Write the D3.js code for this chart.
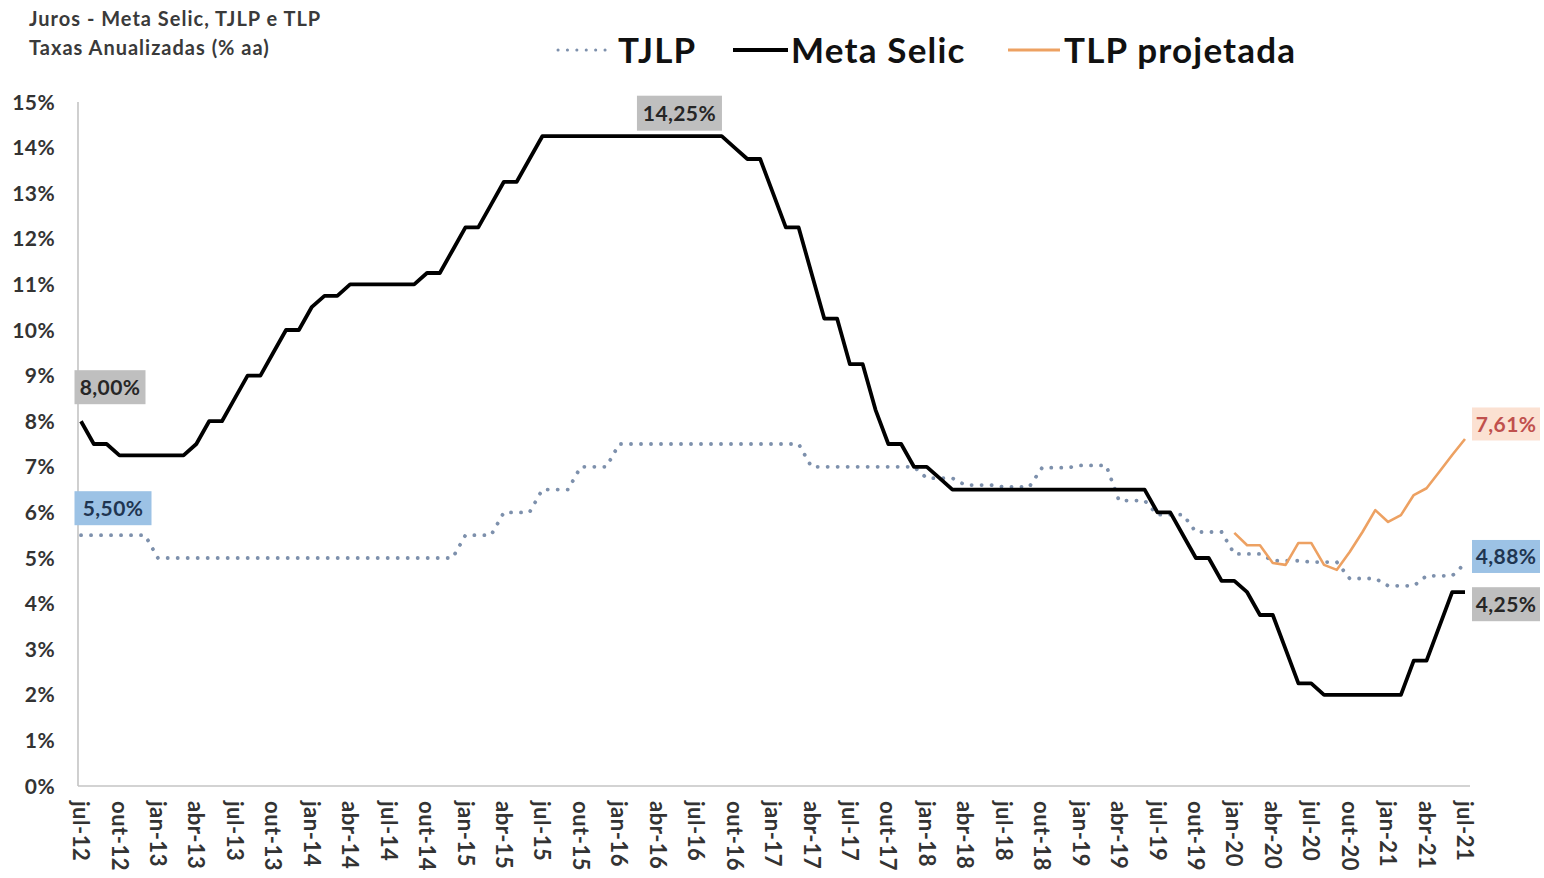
<!DOCTYPE html>
<html><head><meta charset="utf-8">
<script src="https://cdn.jsdelivr.net/npm/d3@7"></script>
<style>
body{margin:0;background:#fff}
svg{display:block}
text{font-family:Lato,"Open Sans",sans-serif;font-weight:bold}
</style>
</head><body>
<svg id="c" width="1544" height="878"></svg>
<script>
// ---- DATA ----
const titleLines = ["Juros - Meta Selic, TJLP e TLP", "Taxas Anualizadas (% aa)"];
const seriesNames = ["TJLP", "Meta Selic", "TLP projetada"];
const tickLabels = ["jul-12","out-12","jan-13","abr-13","jul-13","out-13","jan-14","abr-14","jul-14","out-14",
  "jan-15","abr-15","jul-15","out-15","jan-16","abr-16","jul-16","out-16","jan-17","abr-17","jul-17","out-17",
  "jan-18","abr-18","jul-18","out-18","jan-19","abr-19","jul-19","out-19","jan-20","abr-20","jul-20","out-20",
  "jan-21","abr-21","jul-21"];
const yTicks = [0,1,2,3,4,5,6,7,8,9,10,11,12,13,14,15];
// monthly, jul-12 .. jul-21
const selic = [
  8.00,7.50,7.50,7.25,7.25,7.25,
  7.25,7.25,7.25,7.50,8.00,8.00,8.50,9.00,9.00,9.50,10.00,10.00,
  10.50,10.75,10.75,11.00,11.00,11.00,11.00,11.00,11.00,11.25,11.25,11.75,
  12.25,12.25,12.75,13.25,13.25,13.75,14.25,14.25,14.25,14.25,14.25,14.25,
  14.25,14.25,14.25,14.25,14.25,14.25,14.25,14.25,14.25,14.00,13.75,13.75,
  13.00,12.25,12.25,11.25,10.25,10.25,9.25,9.25,8.25,7.50,7.50,7.00,
  7.00,6.75,6.50,6.50,6.50,6.50,6.50,6.50,6.50,6.50,6.50,6.50,
  6.50,6.50,6.50,6.50,6.50,6.50,6.00,6.00,5.50,5.00,5.00,4.50,
  4.50,4.25,3.75,3.75,3.00,2.25,2.25,2.00,2.00,2.00,2.00,2.00,
  2.00,2.00,2.75,2.75,3.50,4.25,4.25];
const tjlp = [
  5.50,5.50,5.50,5.50,5.50,5.50,
  5.00,5.00,5.00,5.00,5.00,5.00,5.00,5.00,5.00,5.00,5.00,5.00,
  5.00,5.00,5.00,5.00,5.00,5.00,5.00,5.00,5.00,5.00,5.00,5.00,
  5.50,5.50,5.50,6.00,6.00,6.00,6.50,6.50,6.50,7.00,7.00,7.00,
  7.50,7.50,7.50,7.50,7.50,7.50,7.50,7.50,7.50,7.50,7.50,7.50,
  7.50,7.50,7.50,7.00,7.00,7.00,7.00,7.00,7.00,7.00,7.00,7.00,
  6.75,6.75,6.75,6.60,6.60,6.60,6.56,6.56,6.56,6.98,6.98,6.98,
  7.03,7.03,7.03,6.26,6.26,6.26,5.95,5.95,5.95,5.57,5.57,5.57,
  5.09,5.09,5.09,4.94,4.94,4.94,4.91,4.91,4.91,4.55,4.55,4.55,
  4.39,4.39,4.39,4.61,4.61,4.61,4.88];
const tlpStartIndex = 90; // jan-20
const tlp = [5.55,5.28,5.28,4.89,4.85,5.33,5.33,4.85,4.74,5.13,5.57,6.05,5.79,5.94,6.38,6.53,6.89,7.26,7.61];
const labelTexts = {selicStart:"8,00%", tjlpStart:"5,50%", selicPeak:"14,25%", tlpEnd:"7,61%", tjlpEnd:"4,88%", selicEnd:"4,25%"};

// ---- CHART ----
const svg = d3.select("#c");
const nMonths = selic.length;
const x = d3.scaleLinear().domain([0, nMonths - 1]).range([81, 1465]);
const y = d3.scaleLinear().domain([0, 15]).range([786, 102]);

// title
svg.selectAll("text.title").data(titleLines).join("text")
  .attr("x", 29).attr("y", (d, i) => 26 + i * 29)
  .attr("font-size", 20).attr("letter-spacing", 1).attr("fill", "#3a3a3a").text(d => d);

// axes lines
svg.append("line").attr("x1", 78).attr("x2", 78).attr("y1", y(15)).attr("y2", y(0))
  .attr("stroke", "#c4c4c4").attr("stroke-width", 1.6);
svg.append("line").attr("x1", 78).attr("x2", 1470).attr("y1", y(0)).attr("y2", y(0))
  .attr("stroke", "#c4c4c4").attr("stroke-width", 1.6);

// y tick labels
svg.selectAll("text.yt").data(yTicks).join("text")
  .attr("x", 55).attr("y", d => y(d)).attr("dy", "0.36em")
  .attr("text-anchor", "end").attr("font-size", 21).attr("letter-spacing", 0.4).attr("fill", "#333")
  .text(d => d + "%");

// x tick labels
svg.selectAll("text.xt").data(tickLabels).join("text")
  .attr("transform", (d, i) => `translate(${x(i * 3)},801) rotate(90)`)
  .attr("dy", "0.36em").attr("font-size", 22).attr("letter-spacing", 0.5).attr("fill", "#333")
  .text(d => d);

// lines
const line = d3.line().x(d => x(d[0])).y(d => y(d[1]));
svg.append("path").attr("d", line(tjlp.map((v, i) => [i, v])))
  .attr("fill", "none").attr("stroke", "#7d90ac").attr("stroke-width", 3.8)
  .attr("stroke-linecap", "round").attr("stroke-dasharray", "0.1 9.9");
svg.append("path").attr("d", line(selic.map((v, i) => [i, v])))
  .attr("fill", "none").attr("stroke", "#000").attr("stroke-width", 3.8)
  .attr("stroke-linejoin", "round");
svg.append("path").attr("d", line(tlp.map((v, i) => [i + tlpStartIndex, v])))
  .attr("fill", "none").attr("stroke", "#eda162").attr("stroke-width", 2.6)
  .attr("stroke-linejoin", "round");

// data labels
function label(cx, cy, w, h, txt, fill, color) {
  svg.append("rect").attr("x", cx - w / 2).attr("y", cy - h / 2).attr("width", w).attr("height", h).attr("fill", fill);
  svg.append("text").attr("x", cx).attr("y", cy).attr("dy", "0.36em").attr("text-anchor", "middle")
    .attr("font-size", 21).attr("letter-spacing", 0.4).attr("fill", color).text(txt);
}
const last = nMonths - 1;
label(x(0) + 29, y(selic[0]) - 34, 71, 34, labelTexts.selicStart, "#bfbfbf", "#262626");
label(x(0) + 32, y(tjlp[0]) - 27, 77, 34, labelTexts.tjlpStart, "#9cc2e5", "#1f3551");
label(x(46.7), y(d3.max(selic)) - 23, 85, 35, labelTexts.selicPeak, "#bfbfbf", "#262626");
label(x(last) + 41, y(tlp[tlp.length - 1]) - 15, 68, 33, labelTexts.tlpEnd, "#fbe1d2", "#c0504d");
label(x(last) + 41, y(tjlp[last]) - 7, 68, 33, labelTexts.tjlpEnd, "#9cc2e5", "#1f3551");
label(x(last) + 41, y(selic[last]) + 12, 68, 34, labelTexts.selicEnd, "#bfbfbf", "#262626");

// legend
const legY = 50;
const leg = [
  {x1: 558, x2: 612, tx: 618, stroke: "#7d90ac", w: 3, dash: "0.1 9.3", cap: "round"},
  {x1: 733, x2: 788, tx: 791, stroke: "#000", w: 4, dash: null, cap: "butt"},
  {x1: 1008, x2: 1060, tx: 1064, stroke: "#eda162", w: 3, dash: null, cap: "butt"}
];
leg.forEach((l, i) => {
  svg.append("line").attr("x1", l.x1).attr("x2", l.x2).attr("y1", legY).attr("y2", legY)
    .attr("stroke", l.stroke).attr("stroke-width", l.w).attr("stroke-linecap", l.cap)
    .attr("stroke-dasharray", l.dash);
  svg.append("text").attr("x", l.tx).attr("y", legY).attr("dy", "0.36em")
    .attr("font-size", 35).attr("letter-spacing", 1.2).attr("fill", "#111").text(seriesNames[i]);
});
</script>
</body></html>
